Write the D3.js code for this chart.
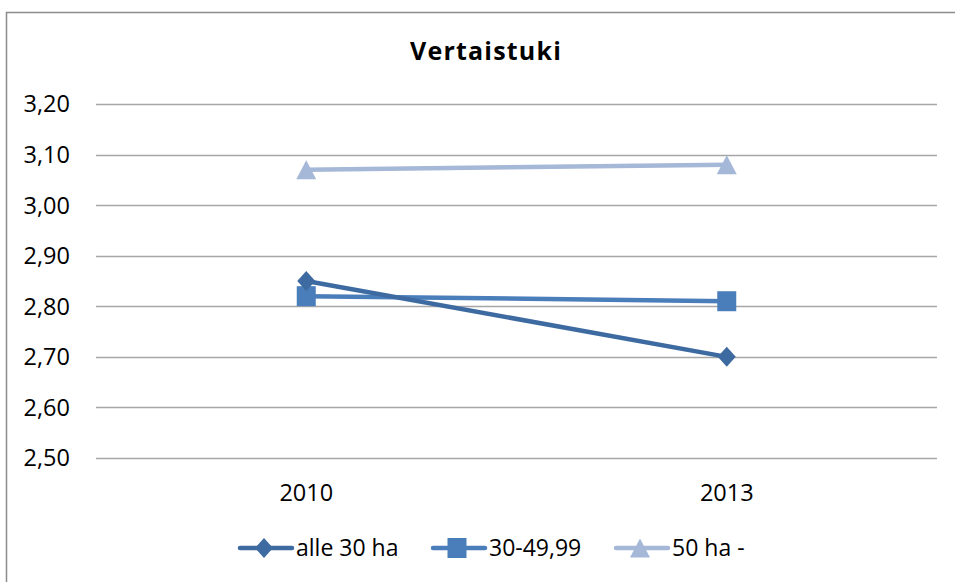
<!DOCTYPE html>
<html>
<head>
<meta charset="utf-8">
<script src="https://cdn.jsdelivr.net/npm/d3@7"></script>
<style>
  body { margin: 0; background: #fff; }
  svg { display: block; font-family: "Open Sans", Lato, sans-serif; }
</style>
</head>
<body>
<div id="chart"></div>
<script>
"use strict"

const title = "Vertaistuki";
const years = ["2010", "2013"];
const seriesNames = ["alle 30 ha", "30-49,99", "50 ha -"];
const alle30 = [2.85, 2.70];
const ha30to50 = [2.82, 2.81];
const yli50 = [3.07, 3.08];
const yTicks = [2.5, 2.6, 2.7, 2.8, 2.9, 3.0, 3.1, 3.2];

const seriesColors = ["#3d6aa0", "#4a7ebb", "#a5b8d7"];

// marker shapes sized by their bounding box (w x h)
function boxSymbol(kind, w, h) {
	return {
		draw(ctx) {
			if (kind === "diamond") {
				ctx.moveTo(0, -h / 2); ctx.lineTo(w / 2, 0); ctx.lineTo(0, h / 2); ctx.lineTo(-w / 2, 0);
			} else if (kind === "square") {
				ctx.rect(-w / 2, -h / 2, w, h);
			} else {
				ctx.moveTo(0, -h / 2); ctx.lineTo(w / 2, h / 2); ctx.lineTo(-w / 2, h / 2);
			}
			ctx.closePath();
		}
	};
}
const seriesShapes = [boxSymbol("diamond", 18, 20), boxSymbol("square", 19, 20), boxSymbol("triangle", 20, 19)];

const totalWidth = 955, totalHeight = 582;
const margin = {left: 96, right: 18, top: 104, bottom: 124};
const width = totalWidth - margin.left - margin.right;
const height = totalHeight - margin.top - margin.bottom;

const svg = d3.select("#chart").append("svg")
	.attr("width", totalWidth)
	.attr("height", totalHeight);

// chart area frame (runs off the right/bottom edge)
svg.append("rect")
	.attr("x", 6.5).attr("y", 12.5)
	.attr("width", 960).attr("height", 600)
	.attr("fill", "none")
	.attr("stroke", "#8c8c8c")
	.attr("stroke-width", 1.5);

svg.append("text")
	.attr("x", 486).attr("y", 60)
	.attr("text-anchor", "middle")
	.attr("font-weight", "bold")
	.attr("font-size", 25)
	.attr("letter-spacing", 1.2)
	.text(title);

const xScale = d3.scaleBand().domain(years).range([0, width]);
const yScale = d3.scaleLinear().domain([2.5, 3.2]).range([height, 0]);

const g = svg.append("g").attr("transform", `translate(${margin.left},${margin.top})`);

// gridlines
g.append("g").selectAll("line")
	.data(yTicks)
	.enter().append("line")
		.attr("x1", 0).attr("x2", width)
		.attr("y1", d => Math.round(yScale(d)) + 0.5)
		.attr("y2", d => Math.round(yScale(d)) + 0.5)
		.attr("stroke", "#a6a6a6")
		.attr("stroke-width", 1.3);

// y tick labels
const fmt = d => d.toFixed(2).replace(".", ",");
g.append("g").selectAll("text")
	.data(yTicks)
	.enter().append("text")
		.attr("x", -26)
		.attr("y", d => yScale(d))
		.attr("dy", "0.36em")
		.attr("text-anchor", "end")
		.attr("font-size", 23.5)
		.text(fmt);

// x tick labels
g.append("g").selectAll("text")
	.data(years)
	.enter().append("text")
		.attr("x", d => xScale(d) + xScale.bandwidth() / 2)
		.attr("y", height + 43)
		.attr("text-anchor", "middle")
		.attr("font-size", 23.5)
		.text(d => d);

const series = [alle30, ha30to50, yli50].map((vals, i) => ({
	name: seriesNames[i],
	color: seriesColors[i],
	shape: seriesShapes[i],
	values: vals.map((v, j) => ({year: years[j], value: v}))
}));

const line = d3.line()
	.x(d => xScale(d.year) + xScale.bandwidth() / 2)
	.y(d => yScale(d.value));

// draw light series first so darker ones sit on top
const drawOrder = [2, 1, 0];
drawOrder.forEach(i => {
	const s = series[i];
	g.append("path")
		.datum(s.values)
		.attr("fill", "none")
		.attr("stroke", s.color)
		.attr("stroke-width", 4.5)
		.attr("stroke-linecap", "round")
		.attr("d", line);
	g.append("g").selectAll("path")
		.data(s.values)
		.enter().append("path")
			.attr("transform", d => `translate(${xScale(d.year) + xScale.bandwidth() / 2},${yScale(d.value)})`)
			.attr("d", d3.symbol().type(s.shape))
			.attr("fill", s.color);
});

// legend
const legendX = [238, 431, 614];
const legend = svg.append("g").selectAll("g")
	.data(series)
	.enter().append("g")
		.attr("transform", (d, i) => `translate(${legendX[i]},548)`);

legend.append("line")
	.attr("x1", 2).attr("x2", 54)
	.attr("y1", 0).attr("y2", 0)
	.attr("stroke", d => d.color)
	.attr("stroke-width", 4.5)
	.attr("stroke-linecap", "round");

legend.append("path")
	.attr("transform", "translate(26,0)")
	.attr("d", d => d3.symbol().type(d.shape)())
	.attr("fill", d => d.color);

legend.append("text")
	.attr("x", 58)
	.attr("y", 0)
	.attr("dy", "0.36em")
	.attr("font-size", 23)
	.text(d => d.name);
</script>
</body>
</html>
